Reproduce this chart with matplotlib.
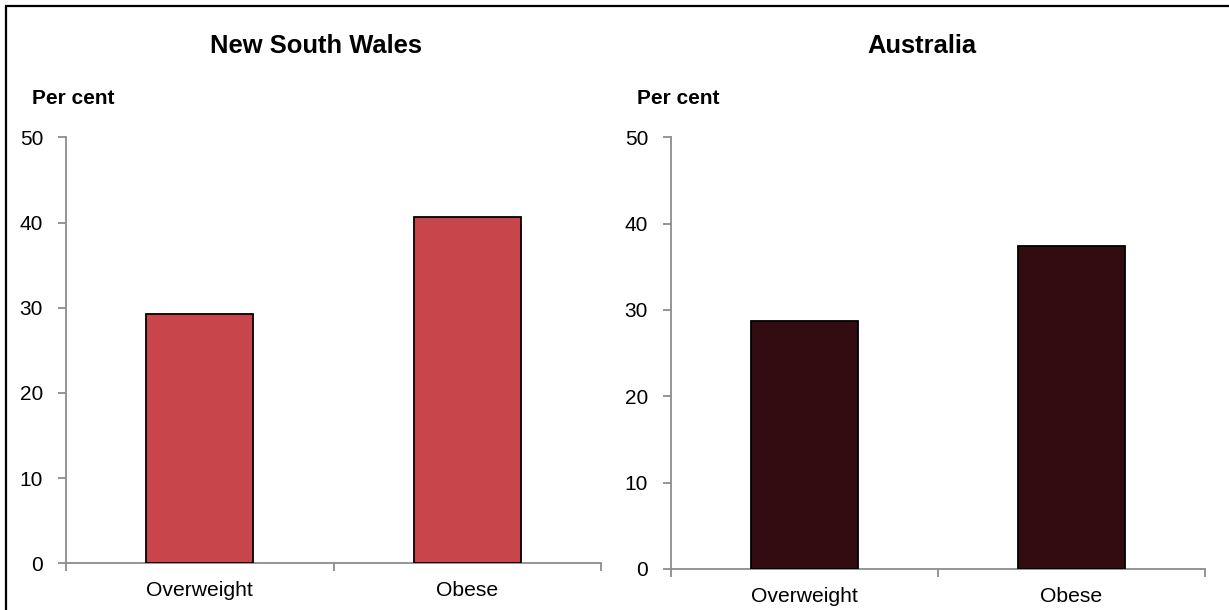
import matplotlib
matplotlib.use("Agg")
import matplotlib.pyplot as plt
from matplotlib.patches import Rectangle

plt.rcParams['font.family'] = ['Liberation Sans', 'DejaVu Sans']

W, H = 1229, 610

categories = ["Overweight", "Obese"]
nsw_values = [29.3, 40.7]
aus_values = [28.7, 37.4]
panel_titles = ["New South Wales", "Australia"]
y_ticks = [0, 10, 20, 30, 40, 50]

NSW_COLOR = "#C8464B"
AUS_COLOR = "#320C11"
AXIS_GRAY = "#8C8C8C"


def px(x0, y0, x1, y1):
    """pixel box (left, top, right, bottom) -> figure fraction rect"""
    return [x0 / W, 1 - y1 / H, (x1 - x0) / W, (y1 - y0) / H]


def draw_panel(ax, values, color):
    xs = range(len(categories))
    ax.bar(xs, values, width=0.4, color=color, edgecolor="black", linewidth=1.3, zorder=3)
    ax.set_xlim(-0.5, len(categories) - 0.5)
    ax.set_ylim(0, 50)
    ax.set_yticks(y_ticks)
    ax.set_xticks(list(xs))
    ax.set_xticklabels(categories, fontsize=15.2)
    ax.set_xticks([-0.5, 0.5, 1.5], minor=True)
    ax.tick_params(axis="x", which="major", length=0, pad=13)
    ax.tick_params(axis="x", which="minor", length=6, width=1.3, color=AXIS_GRAY)
    ax.tick_params(axis="y", length=6, width=1.3, color=AXIS_GRAY, labelsize=15, pad=10.5)
    for side in ["top", "right"]:
        ax.spines[side].set_visible(False)
    for side in ["left", "bottom"]:
        ax.spines[side].set_color(AXIS_GRAY)
        ax.spines[side].set_linewidth(1.3)


fig = plt.figure(figsize=(W / 100, H / 100), dpi=100)

ax1 = fig.add_axes(px(66, 137.3, 601, 563.3))
draw_panel(ax1, nsw_values, NSW_COLOR)

ax2 = fig.add_axes(px(671, 137.3, 1205, 569))
draw_panel(ax2, aus_values, AUS_COLOR)

# panel titles, centred over each half of the frame
fig.text(316 / W, 1 - 46 / H, panel_titles[0], ha="center", va="center",
         fontsize=18.4, fontweight="bold")
fig.text(922 / W, 1 - 46 / H, panel_titles[1], ha="center", va="center",
         fontsize=18.4, fontweight="bold")

fig.text(32 / W, 1 - 104 / H, "Per cent", ha="left", va="baseline",
         fontsize=15, fontweight="bold")
fig.text(637 / W, 1 - 104 / H, "Per cent", ha="left", va="baseline",
         fontsize=15, fontweight="bold")

# outer frame, runs off the right and bottom edge
fig.patches.append(Rectangle((5.5 / W, -0.05), 1.1, 1 - 5.5 / H + 0.05,
                             transform=fig.transFigure, fill=False,
                             edgecolor="black", linewidth=1.6))

fig.savefig("out.png", dpi=100)
